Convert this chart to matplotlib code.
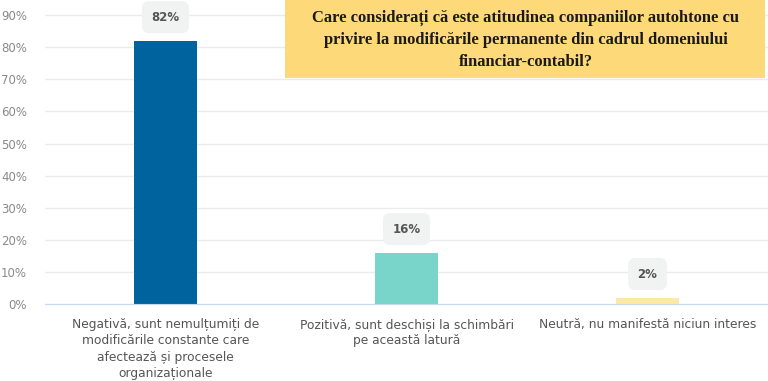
import matplotlib.pyplot as plt

categories = ["Negativă, sunt nemulțumiți de\nmodificările constante care\nafectează și procesele\norganizaționale",
              "Pozitivă, sunt deschiși la schimbări\npe această latură",
              "Neutră, nu manifestă niciun interes"]
values = [82, 16, 2]
labels = ["82%", "16%", "2%"]
colors = ["#00639E", "#79D4C9", "#FDE9A6"]
yticks = [0, 10, 20, 30, 40, 50, 60, 70, 80, 90]
title = "Care considerați că este atitudinea companiilor autohtone cu\nprivire la modificările permanente din cadrul domeniului\nfinanciar-contabil?"

fig = plt.figure(figsize=(7.68, 3.81), dpi=100)
ax = fig.add_axes([0.0586, 0.202, 0.9414, 0.798])
x = list(range(len(categories)))
ax.bar(x, values, width=0.26, color=colors, zorder=3)
ax.set_xlim(-0.5, 2.5)
ax.set_ylim(0, 94.7)
ax.set_yticks(yticks)
ax.set_yticklabels([f"{t}%" for t in yticks], color="#8a8a8a", fontsize=8.5)
ax.set_xticks(x)
ax.set_xticklabels(categories, color="#555555", fontsize=8.8, linespacing=1.33, va="top")
ax.tick_params(axis="x", length=0, pad=10)
ax.tick_params(axis="y", length=0, pad=13)
ax.grid(axis="y", color="#ebebeb", linewidth=1, zorder=0)
for s in ["top", "right", "left"]:
    ax.spines[s].set_visible(False)
ax.spines["bottom"].set_color("#c8d8f0")
ax.spines["bottom"].set_zorder(4)

for xi, v, lab in zip(x, values, labels):
    ax.annotate(lab, (xi, v), xytext=(0, 17), textcoords="offset points",
                ha="center", va="center", fontsize=8.5, color="#555555", fontweight="bold",
                bbox=dict(boxstyle="round,pad=0.8,rounding_size=0.6", fc="#f1f2f2", ec="none"),
                zorder=5)

# title box
fig.patches.append(plt.Rectangle((285/768, 1 - 78/381), 480/768, 78/381,
                                 transform=fig.transFigure, facecolor="#FDD97A",
                                 edgecolor="none", zorder=6))
fig.text(526/768, 1 - 40/381, title, ha="center", va="center", fontsize=11.9,
         fontweight="bold", family="Liberation Serif", color="#1a1a1a",
         linespacing=1.5, zorder=7)

fig.savefig("out.png", dpi=100)
